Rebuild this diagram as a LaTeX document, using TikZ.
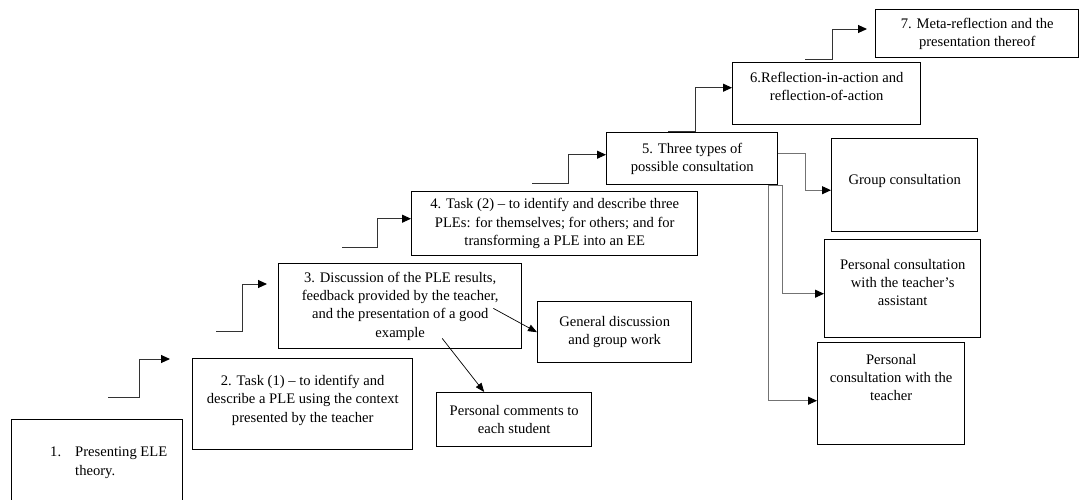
\documentclass[tikz,border=0pt]{standalone}
\usepackage{fontspec}
\setmainfont{Liberation Serif}
\usetikzlibrary{arrows.meta, positioning}

\begin{document}
\begin{tikzpicture}[
    x=1pt, y=-1pt,
    font=\fontsize{14.6}{18.3}\selectfont,
    box/.style={rectangle, draw, line width=1.4pt, anchor=north west, align=center, inner sep=0pt},
    inbox/.style={anchor=north, align=center, inner sep=0pt},
    flow/.style={draw=black!80, line width=1pt, -{Triangle[length=9pt,width=8pt,color=black]}},
    link/.style={line width=0.7pt, -{Triangle[length=9pt,width=7pt]}},
    sub/.style={draw=black!55, line width=1pt, -{Triangle[length=9pt,width=8pt,color=black]}}
]
\useasboundingbox (0,0) rectangle (1086,499);

% Course steps
\node[box, minimum width=171pt, minimum height=86pt, label={[inbox, anchor=north west, align=left, xshift=39pt, yshift=-28pt]north west:{\makebox[25pt][l]{1.}Presenting ELE\\\hspace*{25pt}theory.}}] (theory) at (11,419) {};
\node[box, minimum width=220pt, minimum height=91pt, label={[inbox, yshift=-17pt]north:{2. Task (1) – to identify and\\describe a PLE using the context\\presented by the teacher}}] (task1) at (192,358) {};
\node[box, minimum width=243pt, minimum height=85pt] (discuss) at (278,263) {3. Discussion of the PLE results,\\feedback provided by the teacher,\\and the presentation of a good\\example};
\node[box, minimum width=286pt, minimum height=64pt] (task2) at (411,191) {4. Task (2) – to identify and describe three\\PLEs: for themselves; for others; and for\\transforming a PLE into an EE};
\node[box, minimum width=171pt, minimum height=52pt] (types) at (606,132) {5. Three types of\\possible consultation};
\node[box, minimum width=188pt, minimum height=62pt, label={[inbox, yshift=-10pt]north:{6.Reflection-in-action and\\reflection-of-action}}] (reflect) at (732,62) {};
\node[box, minimum width=203pt, minimum height=48pt] (meta) at (875,9) {7. Meta-reflection and the\\presentation thereof};

% Feedback forms
\node[box, minimum width=154pt, minimum height=61pt] (general) at (537,301) {General discussion\\and group work};
\node[box, minimum width=155pt, minimum height=54pt] (comments) at (436,392) {Personal comments to\\each student};

% Consultation forms
\node[box, minimum width=146pt, minimum height=93pt, label={[inbox, yshift=-36pt]north:Group consultation}] (group) at (831,138) {};
\node[box, minimum width=156pt, minimum height=98pt, label={[inbox, yshift=-20pt]north:{Personal consultation\\with the teacher’s\\assistant}}] (assist) at (824,239) {};
\node[box, minimum width=147pt, minimum height=102pt, label={[inbox, yshift=-12pt]north:{Personal\\consultation with the\\teacher}}] (teacher) at (817,342) {};

% Stair arrows
\coordinate (s1) at (108,397);
\coordinate (e1) at (170,359);
\coordinate (s2) at (216,331);
\coordinate (e2) at (267,284);
\coordinate (s3) at (342,247);
\coordinate (s4) at (532,183);
\coordinate (s5) at (668,131);
\coordinate (s6) at (805,59);
\coordinate (e6) at (867,29);

\draw[flow] (s1) -- ++(31,0) |- (e1);
\draw[flow] (s2) -- ++(26,0) |- (e2);
\draw[flow] (s3) -- ++(35,0) |- ([yshift=5pt]task2.west);
\draw[flow] (s4) -- ++(36,0) |- ([yshift=4pt]types.west);
\draw[flow] (s5) -- ++(27,0) |- ([yshift=6pt]reflect.west);
\draw[flow] (s6) -- ++(27,0) |- (e6);

% Feedback links
\draw[link] ([shift={(-29pt,41pt)}]discuss.south east) -- (general.west);
\draw[link] ([shift={(42pt,11pt)}]discuss.south) -- ([xshift=-30pt]comments.north);

% Consultation links
\draw[sub] ([yshift=5pt]types.east) -- ++(27,0) |- ([yshift=-5pt]group.west);
\draw[sub] ([xshift=-10pt]types.south east) -- ++(14,0) |- ([yshift=-5pt]assist.west);
\draw[sub] ([xshift=-10pt]types.south east) |- ([yshift=-7pt]teacher.west);

\end{tikzpicture}
\end{document}
